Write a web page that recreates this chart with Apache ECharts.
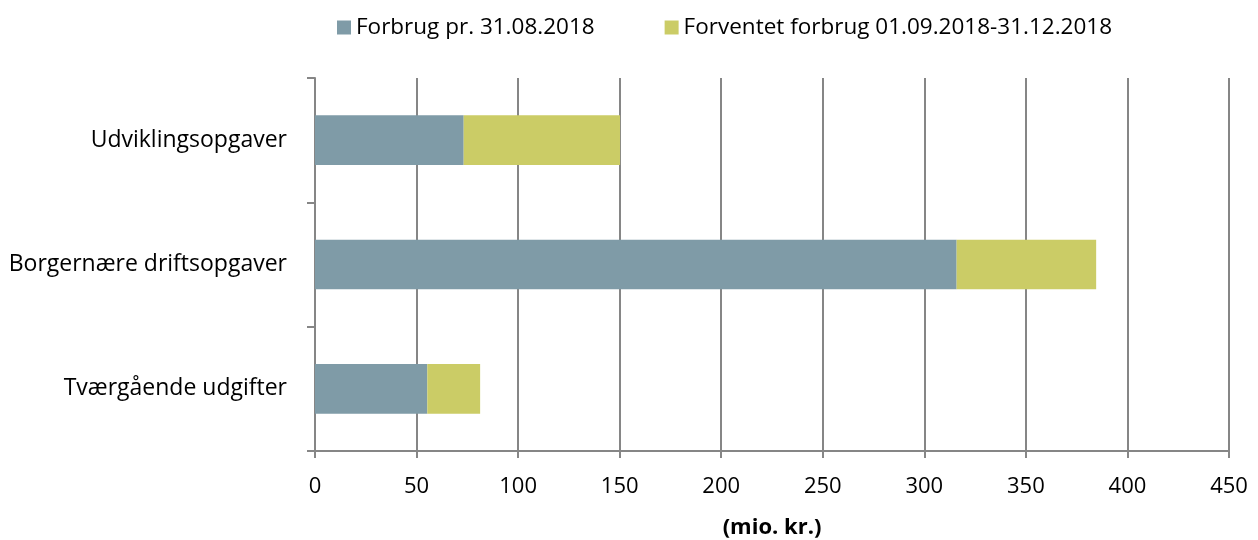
<!DOCTYPE html>
<html>
<head>
<meta charset="utf-8">
<script src="https://cdn.jsdelivr.net/npm/echarts@6/dist/echarts.min.js"></script>
<style>html,body{margin:0;padding:0;background:#fff}#c{width:1258px;height:540px}</style>
</head>
<body>
<div id="c"></div>
<script>
const categories = ['Tværgående udgifter', 'Borgernære driftsopgaver', 'Udviklingsopgaver'];
const seriesNames = ['Forbrug pr. 31.08.2018', 'Forventet forbrug 01.09.2018-31.12.2018'];
const forbrug = [55.3, 315.9, 73.2];
const forventet = [26.0, 68.7, 77.0];
const axisName = '(mio. kr.)';

const FONT = '"Open Sans", sans-serif';
const chart = echarts.init(document.getElementById('c'), null, {renderer: 'canvas'});
chart.setOption({
  animation: false,
  textStyle: {fontFamily: FONT},
  legend: {
    top: 11, left: 332,
    itemWidth: 14, itemHeight: 14, itemGap: 70,
    icon: 'rect',
    textStyle: {fontFamily: FONT, fontSize: 22.5, color: '#000'},
    data: seriesNames
  },
  grid: {left: 315, right: 29, top: 78, bottom: 89, containLabel: false, outerBoundsMode: 'none'},
  xAxis: {
    type: 'value', min: 0, max: 450, interval: 50,
    name: axisName, nameLocation: 'middle', nameGap: 66,
    nameTextStyle: {fontFamily: FONT, fontSize: 22, fontWeight: 'bold', color: '#000'},
    axisLine: {show: true, lineStyle: {color: '#868686', width: 2}},
    axisTick: {show: true, length: 7, lineStyle: {color: '#868686', width: 2}},
    axisLabel: {fontFamily: FONT, fontSize: 22, color: '#000', margin: 25},
    splitLine: {show: true, lineStyle: {color: '#868686', width: 2}}
  },
  yAxis: {
    type: 'category', data: categories,
    axisLine: {show: true, lineStyle: {color: '#868686', width: 2}},
    axisTick: {show: true, length: 8, lineStyle: {color: '#868686', width: 2}},
    axisLabel: {fontFamily: FONT, fontSize: 23, color: '#000', margin: 28}
  },
  series: [
    {name: seriesNames[0], type: 'bar', stack: 'a', data: forbrug, barWidth: '40%',
     itemStyle: {color: '#7F9BA7'}},
    {name: seriesNames[1], type: 'bar', stack: 'a', data: forventet, barWidth: '40%',
     itemStyle: {color: '#CBCC66'}}
  ]
});
</script>
</body>
</html>
